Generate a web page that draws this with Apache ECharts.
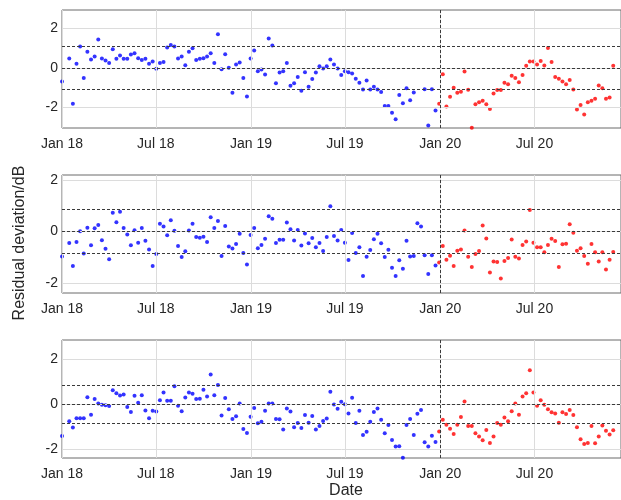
<!DOCTYPE html>
<html>
<head>
<meta charset="utf-8">
<script src="https://cdn.jsdelivr.net/npm/echarts@6/dist/echarts.min.js"></script>
<style>html,body{margin:0;padding:0;background:#fff;}#c{width:621px;height:500px;}</style>
</head>
<body>
<div id="c"></div>
<script>
// ---- data ----
const startDate = '2018-01-01';          // first weekly sample
const stepDays = 7;                      // weekly samples
const axisEndDate = '2020-12-15';
const changeDate = '2020-01-01';         // vertical dashed marker
const firstRedIndex = 104;               // samples from here on drawn red
const tickDates = ['2018-01-01','2018-07-01','2019-01-01','2019-07-01','2020-01-01','2020-07-01'];
const tickLabels = ['Jan 18','Jul 18','Jan 19','Jul 19','Jan 20','Jul 20'];
const yTicks = [-2, 0, 2];
const yRanges = [[-3.05, 2.93], [-2.39, 2.19], [-2.38, 2.86]];
const thresholds = [1.08, 0.86, 0.84];

const panel1 = [-0.69,null,0.47,-1.82,0.20,1.08,-0.52,0.81,0.42,0.57,
1.43,0.47,0.37,0.24,0.94,0.46,0.62,0.46,0.46,0.67,
0.74,0.49,0.40,0.46,0.20,0.32,-0.05,0.25,0.30,1.03,
1.16,1.08,0.47,0.57,0.13,0.81,0.99,0.40,0.46,0.49,
0.57,0.74,0.25,1.70,-0.07,0.69,0.00,-1.26,0.17,0.27,
-0.51,-1.45,0.47,0.88,-0.17,-0.08,-0.34,1.48,1.13,-0.78,
-0.24,-0.17,0.24,-0.91,-0.78,-0.46,-1.16,-0.22,-0.96,-0.57,
-0.24,0.08,-0.03,0.08,0.42,0.17,-0.03,-0.37,-0.17,-0.22,
-0.29,-0.56,-0.76,-1.10,-0.64,-1.10,-0.96,-1.10,-1.23,-1.94,
-1.94,-2.28,-2.61,-1.38,-1.79,-1.03,-1.64,-1.25,null,null,
-1.08,-2.92,-1.08,-2.16,-1.82,-0.32,-1.96,-1.47,-1.01,-1.26,
-1.21,-0.19,-1.11,-3.04,-1.85,-1.75,-1.67,-1.85,-2.09,-1.30,
-1.13,-1.13,-0.76,-0.83,-0.40,-0.51,-0.73,-0.37,0.10,0.32,
0.32,0.17,0.34,0.12,1.01,0.30,-0.46,-0.56,-0.69,-0.83,
-0.62,-1.10,-2.11,-1.89,-2.36,-1.74,-1.67,-1.57,-0.89,-1.03,
-1.57,-1.50,0.10];

const panel2 = [-0.97,null,-0.45,-1.34,-0.41,0.01,-0.86,0.14,-0.54,0.12,
0.25,-0.34,-0.67,-1.08,0.72,0.36,0.76,0.13,-0.12,-0.54,
0.05,-0.44,0.13,-0.36,-0.70,-1.34,-0.88,0.30,0.19,-0.15,
0.43,0.03,-0.57,-0.99,-0.77,0.04,0.30,-0.22,-0.25,-0.21,
-0.41,0.55,0.13,0.40,-0.95,0.21,-0.59,-0.66,-0.49,-0.09,
-0.84,-1.28,-0.14,0.13,-0.65,-0.53,-0.28,0.59,0.49,-0.45,
-0.32,-0.32,0.35,0.08,-0.35,0.06,-0.55,-0.08,-0.46,-0.26,
-0.61,-0.45,-0.76,-0.22,0.98,-0.18,-0.35,0.06,-0.44,-1.11,
-0.06,-0.84,-0.61,-1.73,-0.98,-0.72,-0.30,-0.09,-0.46,-0.99,
-0.71,-1.41,-1.73,-1.12,-1.45,-0.36,-0.97,-0.95,0.32,0.19,
-0.92,-1.65,-0.92,-1.32,-1.21,-0.57,-1.10,-0.94,-1.34,-0.75,
-0.70,0.04,-0.98,-1.38,-0.88,-0.76,0.23,-0.27,-1.59,-1.17,
-1.19,-1.83,-1.15,-1.03,-0.31,-0.98,-1.05,-0.53,-0.39,0.83,
-0.44,-0.61,-0.61,-0.81,-0.53,-0.28,-0.37,-1.38,-0.50,-0.48,
0.28,-0.05,-0.75,-0.65,-0.95,-1.25,-0.49,-0.81,-1.17,-0.81,
-1.48,-1.10,-0.80];

const panel3 = [-1.40,null,-0.75,-1.03,-0.62,-0.62,-0.62,0.32,-0.46,0.24,
0.04,-0.01,-0.04,-0.07,0.63,0.49,0.40,0.44,-0.12,-0.34,
0.38,0.07,0.41,-0.27,-0.61,-0.28,-0.31,0.18,0.53,0.16,
0.16,0.81,-0.06,-0.30,0.31,0.53,0.47,0.24,0.25,0.65,
0.35,1.33,0.41,0.86,-0.49,0.28,-0.22,-0.65,-0.53,0.04,
-1.09,-1.27,-0.55,-0.16,-0.84,-0.77,-0.28,0.04,0.04,-0.65,
-0.66,-1.11,-0.18,-0.32,-1.02,-0.83,-1.05,-0.47,-0.81,-0.52,
-1.11,-0.96,-0.74,-0.63,0.56,0.00,-0.19,0.12,0.01,-0.40,
0.30,-0.83,-0.28,-1.36,-1.21,-0.77,-0.34,-0.18,-0.68,-1.28,
-0.92,-1.58,-1.87,-1.86,-2.37,-0.92,-0.65,-1.36,-0.41,-0.25,
-1.68,-1.87,-1.39,-1.67,-1.20,-0.68,-0.90,-1.08,-1.31,-0.90,
-0.56,0.13,-0.96,-0.96,-1.28,-1.42,-1.59,-1.14,-1.71,-1.43,
-0.83,-0.90,-0.58,-0.75,-0.30,0.04,-0.46,0.35,0.49,1.52,
0.53,-0.06,0.19,-0.01,-0.21,-0.35,-0.40,-0.81,-0.35,-0.43,
-0.25,-0.47,-1.02,-1.55,-1.76,-1.71,-0.96,-1.73,-1.43,-0.94,
-1.17,-1.34,-1.15];

const panels = [panel1, panel2, panel3];

// ---- helpers ----
const DAY = 86400000;
const t0 = Date.parse(startDate);
const toDay = d => (Date.parse(d) - t0) / DAY;
const tickDays = tickDates.map(toDay);
const xMax = toDay(axisEndDate);
const changeDay = toDay(changeDate);
const FONT = "'Liberation Sans', Arial, Helvetica, sans-serif";
const TXT = '#262626';

const gridTops = [10, 175, 340];
const grids = [], xAxes = [], yAxes = [], series = [];

panels.forEach((vals, p) => {
  grids.push({left: 62, right: -4, top: gridTops[p], height: 118, show: true,
    borderColor: '#6a6a6a', borderWidth: 1, backgroundColor: 'transparent', containLabel: false});
  const tickStyle = {show: true, inside: true, length: 5, customValues: tickDays, lineStyle: {color: '#333', width: 1}};
  xAxes.push({type: 'value', gridIndex: p, min: 0, max: xMax, position: 'bottom',
    axisLine: {show: false}, splitLine: {show: false},
    axisTick: tickStyle,
    axisLabel: {show: true, customValues: tickDays, margin: 9, fontSize: 14, color: TXT, fontFamily: FONT,
      formatter: v => tickLabels[tickDays.indexOf(v)] || ''}});
  xAxes.push({type: 'value', gridIndex: p, min: 0, max: xMax, position: 'top',
    axisLine: {show: false}, splitLine: {show: false},
    axisTick: tickStyle, axisLabel: {show: false}});
  yAxes.push({type: 'value', gridIndex: p, min: yRanges[p][0], max: yRanges[p][1],
    axisLine: {show: false}, splitLine: {show: false},
    axisTick: {show: true, inside: true, length: 5, customValues: yTicks, lineStyle: {color: '#333', width: 1}},
    axisLabel: {show: true, customValues: yTicks, margin: 4, fontSize: 14, color: TXT, fontFamily: FONT,
      formatter: v => String(v)}});

  const blue = [], red = [];
  vals.forEach((v, i) => {
    if (v === null) return;
    const pt = [i * stepDays, v];
    (i < firstRedIndex ? blue : red).push(pt);
  });
  const th = thresholds[p];
  const grey = {color: '#dcdcdc', width: 1, type: 'solid'};
  const dash = {color: '#3a3a3a', width: 1, type: [3, 2]};
  const mlData = [];
  tickDays.forEach(d => mlData.push({xAxis: d, lineStyle: grey}));
  yTicks.forEach(y => mlData.push({yAxis: y, lineStyle: grey}));
  [th, 0, -th].forEach(y => mlData.push({yAxis: y, lineStyle: dash}));
  mlData.push({xAxis: changeDay, lineStyle: dash});

  series.push({type: 'scatter', xAxisIndex: 2 * p, yAxisIndex: p, data: [], z: 1, silent: true,
    markLine: {silent: true, symbol: 'none', label: {show: false}, animation: false, data: mlData}});
  series.push({type: 'scatter', xAxisIndex: 2 * p, yAxisIndex: p, data: blue, z: 3,
    symbol: 'circle', symbolSize: 4, itemStyle: {color: '#0000ff'}});
  series.push({type: 'scatter', xAxisIndex: 2 * p, yAxisIndex: p, data: red, z: 3,
    symbol: 'circle', symbolSize: 4, itemStyle: {color: '#ff0000'}});
});

const chart = echarts.init(document.getElementById('c'), null, {renderer: 'canvas'});
chart.setOption({
  animation: false,
  backgroundColor: '#ffffff',
  grid: grids, xAxis: xAxes, yAxis: yAxes, series: series,
  graphic: [
    {type: 'text', x: 20, y: 243, rotation: Math.PI / 2,
      style: {text: 'Residual deviation/dB', align: 'center', verticalAlign: 'middle', fontSize: 16, fill: TXT, fontFamily: FONT}},
    {type: 'text', x: 346, y: 491,
      style: {text: 'Date', align: 'center', verticalAlign: 'middle', fontSize: 16, fill: TXT, fontFamily: FONT}}
  ]
});
</script>
</body>
</html>
